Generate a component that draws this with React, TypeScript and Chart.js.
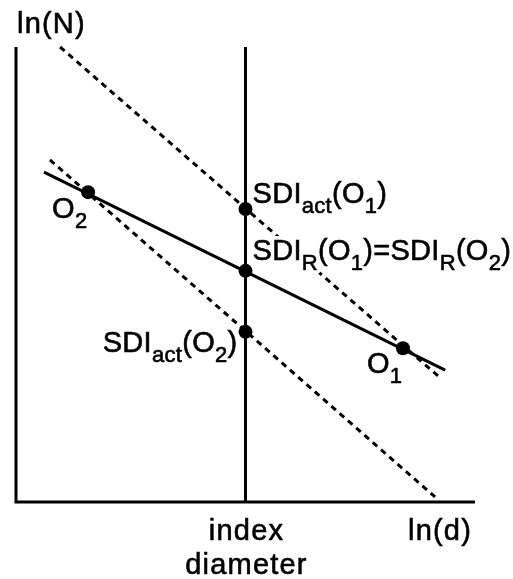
import React, { useEffect, useRef } from "react";
import { Chart, registerables } from "chart.js";

Chart.register(...registerables);

// ---- data (arbitrary log units) ----
const xLimits = [0, 10];
const yLimits = [0, 10];
const indexDiameter = 5;

const upperDashX = [0.96, 9.24];
const upperDashY = [10, 2.73];
const lowerDashX = [0.74, 9.13];
const lowerDashY = [7.52, 0.11];
const solidX = [0.61, 9.35];
const solidY = [7.25, 2.9];

const pointNames = ["O2", "SDIR", "SDIact(O1)", "SDIact(O2)", "O1"];
const pointX = [1.57, 5, 5, 5, 8.43];
const pointY = [6.81, 5.08, 6.44, 3.74, 3.38];

const xAxisTitle = "ln(d)";
const yAxisTitle = "ln(N)";
const indexLabel = ["index", "diameter"];

type Seg = { t: string; sub?: boolean };

const pts = (xs: number[], ys: number[]) => xs.map((x, i) => ({ x, y: ys[i] }));

const FONT = '"Liberation Sans", Arial, Helvetica, sans-serif';

const annotations: { segs: Seg[]; point: number; dx: number; dy: number; align: "left" | "right" }[] = [
  {
    segs: [{ t: "SDI" }, { t: "act", sub: true }, { t: "(O" }, { t: "1", sub: true }, { t: ")" }],
    point: 2, dx: 7, dy: -6, align: "left",
  },
  {
    segs: [
      { t: "SDI" }, { t: "R", sub: true }, { t: "(O" }, { t: "1", sub: true }, { t: ")=SDI" },
      { t: "R", sub: true }, { t: "(O" }, { t: "2", sub: true }, { t: ")" },
    ],
    point: 1, dx: 7, dy: -11, align: "left",
  },
  {
    segs: [{ t: "SDI" }, { t: "act", sub: true }, { t: "(O" }, { t: "2", sub: true }, { t: ")" }],
    point: 3, dx: -8, dy: 20, align: "right",
  },
  { segs: [{ t: "O" }, { t: "2", sub: true }], point: 0, dx: -36, dy: 26, align: "left" },
  { segs: [{ t: "O" }, { t: "1", sub: true }], point: 4, dx: -36, dy: 25, align: "left" },
];

function fillStroke(ctx: CanvasRenderingContext2D, t: string, x: number, y: number) {
  ctx.fillText(t, x, y);
  ctx.strokeText(t, x, y);
}

function layoutRich(ctx: CanvasRenderingContext2D, segs: Seg[], x: number, y: number, align: "left" | "right") {
  const mainF = `29px ${FONT}`;
  const subF = `22px ${FONT}`;
  let w = 0;
  for (const s of segs) {
    ctx.font = s.sub ? subF : mainF;
    w += ctx.measureText(s.t).width;
  }
  let cx = align === "right" ? x - w : x;
  const out: { t: string; f: string; x: number; y: number }[] = [];
  for (const s of segs) {
    ctx.font = s.sub ? subF : mainF;
    out.push({ t: s.t, f: ctx.font, x: cx, y: s.sub ? y + 10 : y });
    cx += ctx.measureText(s.t).width;
  }
  return out;
}

const textPlugin = {
  id: "textLabels",
  beforeDatasetDraw(chart: any, args: any) {
    if (args.index !== 0) return;
    const { ctx, chartArea, scales } = chart;
    const xs = scales.x;
    const ys = scales.y;
    ctx.save();
    (ctx as any).letterSpacing = "0.3px";
    ctx.textAlign = "left";
    ctx.textBaseline = "alphabetic";
    const runs: any[] = [];
    for (const a of annotations) {
      const px = xs.getPixelForValue(pointX[a.point]);
      const py = ys.getPixelForValue(pointY[a.point]);
      runs.push(...layoutRich(ctx, a.segs, px + a.dx, py + a.dy, a.align));
    }
    // white knock-out halo behind labels
    ctx.strokeStyle = "#fff";
    ctx.lineWidth = 8;
    ctx.lineJoin = "round";
    for (const r of runs) {
      ctx.font = r.f;
      ctx.strokeText(r.t, r.x, r.y);
    }
    ctx.fillStyle = "#000";
    ctx.strokeStyle = "#000";
    ctx.lineWidth = 0.6;
    for (const r of runs) {
      ctx.font = r.f;
      fillStroke(ctx, r.t, r.x, r.y);
    }
    (ctx as any).letterSpacing = "1.2px";
    ctx.font = `29px ${FONT}`;
    ctx.textAlign = "left";
    fillStroke(ctx, yAxisTitle, chartArea.left + 1, chartArea.top - 14);
    ctx.textAlign = "right";
    fillStroke(ctx, xAxisTitle, chartArea.right - 3, chartArea.bottom + 38);
    ctx.textAlign = "center";
    const ix = xs.getPixelForValue(indexDiameter);
    fillStroke(ctx, indexLabel[0], ix + 1, chartArea.bottom + 38);
    fillStroke(ctx, indexLabel[1], ix + 1, chartArea.bottom + 72);
    ctx.restore();
  },
};

export default function App() {
  const ref = useRef<HTMLCanvasElement | null>(null);
  useEffect(() => {
    if (!ref.current) return;
    const solidLine = (data: any) => ({
      data, showLine: true, borderColor: "#000", borderWidth: 3, pointRadius: 0, clip: false as any,
    });
    const dashLine = (data: any) => ({
      data, showLine: true, borderColor: "#000", borderWidth: 3, borderDash: [6, 5], pointRadius: 0, clip: false as any,
    });
    const chart = new Chart(ref.current, {
      type: "scatter",
      data: {
        datasets: [
          {
            label: "points",
            data: pts(pointX, pointY).map((p, i) => ({ ...p, name: pointNames[i] })),
            showLine: false,
            pointRadius: 7,
            pointBackgroundColor: "#000",
            pointBorderWidth: 0,
            clip: false as any,
          },
          solidLine([{ x: xLimits[0], y: yLimits[1] }, { x: xLimits[0], y: yLimits[0] }, { x: xLimits[1], y: yLimits[0] }]),
          solidLine([{ x: indexDiameter, y: yLimits[0] }, { x: indexDiameter, y: yLimits[1] }]),
          dashLine(pts(upperDashX, upperDashY)),
          dashLine(pts(lowerDashX, lowerDashY)),
          solidLine(pts(solidX, solidY)),
        ],
      },
      options: {
        animation: false,
        responsive: false,
        layout: { padding: { left: 16, top: 47, right: 38, bottom: 77 } },
        plugins: { legend: { display: false }, tooltip: { enabled: false } },
        scales: {
          x: { type: "linear", min: xLimits[0], max: xLimits[1], display: false },
          y: { type: "linear", min: yLimits[0], max: yLimits[1], display: false },
        },
      },
      plugins: [textPlugin],
    });
    return () => chart.destroy();
  }, []);
  return (
    <div style={{ position: "absolute", left: 0, top: 0, width: 513, height: 579, background: "#fff" }}>
      <canvas ref={ref} width={513} height={579} style={{ width: 513, height: 579, display: "block" }} />
    </div>
  );
}
